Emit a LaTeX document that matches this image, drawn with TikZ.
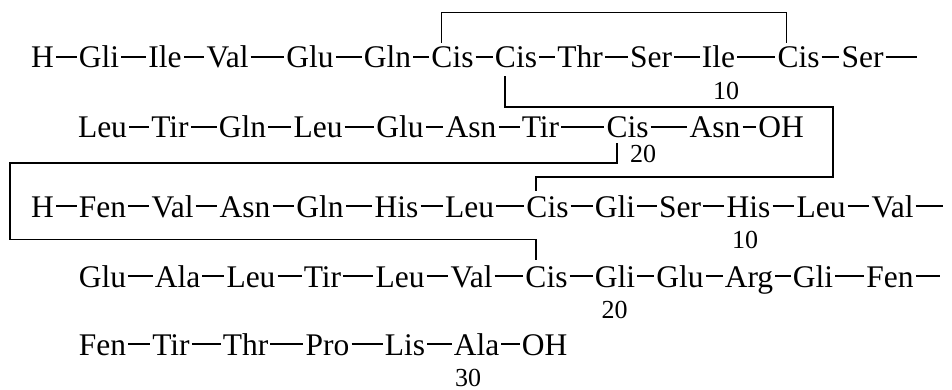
\documentclass[tikz,border=0pt]{standalone}
\usepackage{fontspec}
\setmainfont{Liberation Serif}
\usetikzlibrary{calc}
\tikzstyle{residue}=[font=\fontsize{31.5}{36}\selectfont,anchor=base,inner xsep=2pt,inner ysep=0pt,text height=22pt,text depth=0pt]
\tikzstyle{resno}=[font=\fontsize{26}{30}\selectfont,anchor=base,inner sep=0pt]
\tikzstyle{bond} = [draw,line width=1.3pt]
\tikzstyle{ssbond} = [draw,line width=1.4pt]

\begin{document}
\begin{tikzpicture}[x=1pt,y=1pt]
\useasboundingbox (0,0) rectangle (952,-390);

    % Chain A, first row
    \def\dy{-68};
    \foreach \x/\name/\label in {42.5/HA/H, 99/A1/Gli, 165/A2/Ile, 227.5/A3/Val, 310/A4/Glu, 387.5/A5/Gln, 452.5/A6/Cis, 516/A7/Cis, 580/A8/Thr, 651/A9/Ser, 718.5/A10/Ile, 798.5/A11/Cis, 862.5/A12/Ser}
        \node[residue] (\name) at (\x,\dy) {\label};
    \coordinate (A12e) at (917,-57);

    % Chain A, second row
    \def\dy{-138};
    \foreach \x/\name/\label in {102.5/A13/Leu, 170/A14/Tir, 242.5/A15/Gln, 318/A16/Leu, 400/A17/Glu, 471/A18/Asn, 540.5/A19/Tir, 627.5/A20/Cis, 715/A21/Asn, 781/OHA/OH}
        \node[residue] (\name) at (\x,\dy) {\label};

    % Chain B, first row
    \def\dy{-217};
    \foreach \x/\name/\label in {42.5/HB/H, 102.5/B1/Fen, 172.5/B2/Val, 245/B3/Asn, 320/B4/Gln, 396.5/B5/His, 469.5/B6/Leu, 547.5/B7/Cis, 615/B8/Gli, 680/B9/Ser, 748.5/B10/His, 821/B11/Leu, 892.5/B12/Val}
        \node[residue] (\name) at (\x,\dy) {\label};
    \coordinate (B12e) at (943,-206);

    % Chain B, second row
    \def\dy{-287};
    \foreach \x/\name/\label in {102.5/B13/Glu, 177.5/B14/Ala, 251/B15/Leu, 322.5/B16/Tir, 400/B17/Leu, 471.5/B18/Val, 546.5/B19/Cis, 615/B20/Gli, 680/B21/Glu, 749/B22/Arg, 813/B23/Gli, 890/B24/Fen}
        \node[residue] (\name) at (\x,\dy) {\label};
    \coordinate (B24e) at (940,-276);

    % Chain B, third row
    \def\dy{-355};
    \foreach \x/\name/\label in {102.5/B25/Fen, 171/B26/Tir, 245.5/B27/Thr, 327.5/B28/Pro, 405/B29/Lis, 476.5/B30/Ala, 544.5/OHB/OH}
        \node[residue] (\name) at (\x,\dy) {\label};

    % Peptide bonds
  \foreach \source/ \dest in {HA/A1, A1/A2, A2/A3, A3/A4, A4/A5, A5/A6, A6/A7, A7/A8, A8/A9, A9/A10, A10/A11, A11/A12, A12/A12e, A13/A14, A14/A15, A15/A16, A16/A17, A17/A18, A18/A19, A19/A20, A20/A21, A21/OHA}
          \path[bond] (\source) -- (\dest);
  \foreach \source/ \dest in {HB/B1, B1/B2, B2/B3, B3/B4, B4/B5, B5/B6, B6/B7, B7/B8, B8/B9, B9/B10, B10/B11, B11/B12, B12/B12e, B13/B14, B14/B15, B15/B16, B16/B17, B17/B18, B18/B19, B19/B20, B20/B21, B21/B22, B22/B23, B23/B24, B24/B24e, B25/B26, B26/B27, B27/B28, B28/B29, B29/B30, B30/OHB}
          \path[bond] (\source) -- (\dest);

    % Disulfide bridges
\path[ssbond] ([xshift=-11pt,yshift=3pt]A6.north) -- ++(0,30) -| ([xshift=-12pt,yshift=3pt]A11.north);
\path[ssbond] ([xshift=-11pt,yshift=-8pt]A7.south) -- ++(0,-31) -| ++(328,-70) -| ([xshift=-11.5pt,yshift=4pt]B7.north);
\path[ssbond] ([xshift=-10.5pt,yshift=-5pt]A20.south) -- ++(0,-20) -| ++(-607,-76) -| ([xshift=-10.5pt,yshift=5pt]B19.north);

    % Residue numbers
\node[resno] (nA10) at (726,-100) {10};
\node[resno] (nA20) at (643,-163) {20};
\node[resno] (nB10) at (745,-248) {10};
\node[resno] (nB20) at (614.5,-318) {20};
\node[resno] (nB30) at (468,-386) {30};

\end{tikzpicture}
\end{document}
